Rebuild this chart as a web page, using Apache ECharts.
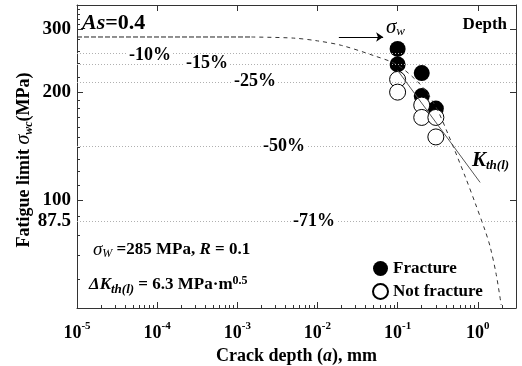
<!DOCTYPE html>
<html>
<head>
<meta charset="utf-8">
<script src="https://cdn.jsdelivr.net/npm/echarts@6/dist/echarts.min.js"></script>
<style>
  html, body { margin: 0; padding: 0; background: #fff; }
  #chart { width: 522px; height: 366px; }
</style>
</head>
<body>
<div id="chart"></div>
<script>
// crack depth a (mm) / fatigue limit (MPa)
var fracA = [0.1, 0.1, 0.2, 0.2, 0.3];
var fracS = [264, 239, 226, 195, 180];
var notA = [0.1, 0.1, 0.2, 0.2, 0.3, 0.3];
var notS = [217, 200, 184, 170, 170, 150];

// dashed prediction curve
var flatA = [1e-5, 1.5e-3];
var flatS = [285, 285];
var curveA = [1.5e-3, 5e-3, 0.01, 0.02, 0.05, 0.1, 0.2, 0.3, 0.43, 0.7, 0.93, 1.24, 1.43, 1.7, 1.96];
var curveS = [285, 283, 278, 270, 253, 238, 208, 182, 152, 116, 98, 82, 74, 62, 51];

// Kth(l) line and sigma_w arrow
var kthA = [0.1, 1.07];
var kthS = [230, 112];
var arrowA = [0.0185, 0.066];
var arrowS = [285, 285];

// dotted reference levels
var refS = [256.5, 242.25, 213.75, 142.5, 87.5];

// axes
var xMin = 1e-5, xMax = 3;
var yMin = 50, yMax = 350;
var yLabelVals = [87.5, 100, 200, 300];
var yMajor = [100, 200, 300];
var yMinor = [60, 70, 80, 90, 110, 120, 130, 140, 150, 160, 170, 180, 190,
              220, 240, 260, 280, 310, 320, 330, 340];
var xMinor = [];
for (var d = -5; d <= 0; d++) {
  for (var k = 2; k <= 9; k++) {
    var v = k * Math.pow(10, d);
    if (v < xMax) xMinor.push(v);
  }
}

var L = Math.log10;
function pts(a, s) { return a.map(function (x, i) { return [L(x), L(s[i])]; }); }

var FONT = '"Times New Roman", "Liberation Serif", serif';
var myChart = echarts.init(document.getElementById('chart'));

var frameLine = { onZero: false, lineStyle: { color: '#333', width: 1 } };
var noLine = { show: false, onZero: false };

var option = {
  animation: false,
  textStyle: { fontFamily: FONT, color: '#000' },
  grid: [
    { left: 77, right: 6, top: 5, bottom: 58, containLabel: false, outerBoundsMode: 'none' },
    { left: 77, right: 6, top: 5, bottom: 58, containLabel: false, outerBoundsMode: 'none' }
  ],
  legend: {
    data: ['Fracture', 'Not fracture'],
    orient: 'vertical',
    left: 367, top: 255,
    itemWidth: 15, itemHeight: 15, itemGap: 6,
    icon: 'circle',
    textStyle: { fontFamily: FONT, fontWeight: 'bold', fontSize: 17, color: '#000' }
  },
  xAxis: [
    {
      type: 'value', gridIndex: 0, position: 'bottom',
      min: L(xMin), max: L(xMax), interval: 1,
      name: '{b|Crack depth (}{i|a}{b|), mm}',
      nameLocation: 'middle', nameGap: 36,
      nameTextStyle: {
        rich: {
          b: { fontFamily: FONT, fontWeight: 'bold', fontSize: 18, color: '#000' },
          i: { fontFamily: FONT, fontWeight: 'bold', fontStyle: 'italic', fontSize: 18, color: '#000' }
        }
      },
      axisLine: frameLine,
      axisTick: { inside: true, length: 6, lineStyle: { color: '#333' } },
      splitLine: { show: false },
      axisLabel: {
        margin: 8,
        showMaxLabel: false,
        formatter: function (v) {
          var e = Math.round(v);
          if (Math.abs(v - e) > 1e-6) return '';
          return '{b|10}{s|' + e + '}';
        },
        rich: {
          b: { fontFamily: FONT, fontWeight: 'bold', fontSize: 18, color: '#000', padding: [8, 0, 0, 0] },
          s: { fontFamily: FONT, fontWeight: 'bold', fontSize: 11, color: '#000', padding: [0, 0, 6, 0] }
        }
      }
    },
    {
      type: 'value', gridIndex: 0, position: 'top',
      min: L(xMin), max: L(xMax), interval: 1,
      axisLine: frameLine,
      axisTick: { inside: true, length: 6, lineStyle: { color: '#333' } },
      axisLabel: { show: false },
      splitLine: { show: false }
    },
    {
      type: 'value', gridIndex: 1, position: 'bottom',
      min: L(xMin), max: L(xMax),
      axisLine: noLine,
      axisTick: { inside: true, length: 3, customValues: xMinor.map(L), lineStyle: { color: '#333' } },
      axisLabel: { show: false },
      splitLine: { show: false }
    }
  ],
  yAxis: [
    {
      type: 'value', gridIndex: 0, position: 'left',
      min: L(yMin), max: L(yMax),
      axisLine: frameLine,
      axisTick: { inside: true, length: 6, customValues: yMajor.map(L), lineStyle: { color: '#333' } },
      splitLine: { show: false },
      axisLabel: {
        margin: 6,
        customValues: yLabelVals.map(L),
        fontFamily: FONT, fontWeight: 'bold', fontSize: 19, color: '#000',
        formatter: function (v) { return String(Math.round(Math.pow(10, v) * 10) / 10); }
      }
    },
    {
      type: 'value', gridIndex: 0, position: 'right',
      min: L(yMin), max: L(yMax),
      axisLine: frameLine,
      axisTick: { inside: true, length: 6, customValues: yMajor.map(L), lineStyle: { color: '#333' } },
      axisLabel: { show: false },
      splitLine: { show: false }
    },
    {
      type: 'value', gridIndex: 1, position: 'left',
      min: L(yMin), max: L(yMax),
      axisLine: noLine,
      axisTick: { inside: true, length: 3, customValues: yMinor.map(L), lineStyle: { color: '#333' } },
      axisLabel: { show: false },
      splitLine: { show: false }
    }
  ],
  series: [
    {
      name: 'flat', type: 'line', xAxisIndex: 0, yAxisIndex: 0,
      data: pts(flatA, flatS), showSymbol: false, z: 4,
      lineStyle: { color: '#222', width: 1, type: [5, 2] },
      markLine: {
        silent: true, symbol: 'none', label: { show: false },
        lineStyle: { color: '#b0b0b0', width: 1, type: [1, 2] },
        data: refS.map(function (s) { return { yAxis: L(s) }; })
      }
    },
    {
      name: 'curve', type: 'line', xAxisIndex: 0, yAxisIndex: 0,
      data: pts(curveA, curveS), showSymbol: false, smooth: 0.3, z: 4,
      lineStyle: { color: '#333', width: 1, type: [4, 4] }
    },
    {
      name: 'Kth', type: 'line', xAxisIndex: 0, yAxisIndex: 0,
      data: pts(kthA, kthS), showSymbol: false, z: 4,
      lineStyle: { color: '#555', width: 1 }
    },
    {
      name: 'arrow', type: 'line', xAxisIndex: 0, yAxisIndex: 0,
      data: [], z: 4,
      markLine: {
        silent: true, symbol: ['none', 'arrow'], symbolSize: 7,
        label: { show: false },
        lineStyle: { color: '#000', width: 1, type: 'solid' },
        data: [[{ coord: [L(arrowA[0]), L(arrowS[0])] }, { coord: [L(arrowA[1]), L(arrowS[1])] }]]
      }
    },
    {
      name: 'Fracture', type: 'scatter', xAxisIndex: 0, yAxisIndex: 0,
      data: pts(fracA, fracS), symbol: 'circle', symbolSize: 16, z: 2,
      itemStyle: { color: '#000', opacity: 1 }
    },
    {
      name: 'Not fracture', type: 'scatter', xAxisIndex: 0, yAxisIndex: 0,
      data: pts(notA, notS), symbol: 'circle', symbolSize: 16, z: 3,
      itemStyle: { color: '#fff', borderColor: '#000', borderWidth: 1, opacity: 1 }
    }
  ],
  graphic: [
    { type: 'text', x: 24, y: 160, rotation: Math.PI / 2, style: {
      text: '{b|Fatigue limit }{si|σ}{sub|wc}{b|(MPa)}', align: 'center', verticalAlign: 'middle',
      rich: {
        b: { fontFamily: FONT, fontWeight: 'bold', fontSize: 18, fill: '#000' },
        si: { fontFamily: FONT, fontStyle: 'italic', fontSize: 20, fill: '#000' },
        sub: { fontFamily: FONT, fontStyle: 'italic', fontWeight: 'bold', fontSize: 12, fill: '#000', padding: [9, 0, 0, 0] }
      } } },
    { type: 'text', x: 82, y: 23, style: {
      text: '{i|As}{b|=0.4}', verticalAlign: 'middle',
      rich: {
        i: { fontFamily: FONT, fontWeight: 'bold', fontStyle: 'italic', fontSize: 22, fill: '#000' },
        b: { fontFamily: FONT, fontWeight: 'bold', fontSize: 22, fill: '#000' }
      } } },
    { type: 'text', x: 507, y: 25, style: {
      text: 'Depth', align: 'right', verticalAlign: 'middle',
      fontFamily: FONT, fontWeight: 'bold', fontSize: 17, fill: '#000' } },
    { type: 'text', x: 386, y: 27, style: {
      text: '{s|σ}{w|w}', verticalAlign: 'middle',
      rich: {
        s: { fontFamily: FONT, fontStyle: 'italic', fontSize: 21, fill: '#000' },
        w: { fontFamily: FONT, fontStyle: 'italic', fontSize: 13, fill: '#000', padding: [9, 0, 0, 0] }
      } } },
    { type: 'text', x: 150, y: 55, z: 10, style: { text: '-10%', align: 'center', verticalAlign: 'middle',
      fontFamily: FONT, fontWeight: 'bold', fontSize: 18, fill: '#000', backgroundColor: '#fff', padding: [0, 2] } },
    { type: 'text', x: 207, y: 63, z: 10, style: { text: '-15%', align: 'center', verticalAlign: 'middle',
      fontFamily: FONT, fontWeight: 'bold', fontSize: 18, fill: '#000', backgroundColor: '#fff', padding: [0, 2] } },
    { type: 'text', x: 255, y: 81, z: 10, style: { text: '-25%', align: 'center', verticalAlign: 'middle',
      fontFamily: FONT, fontWeight: 'bold', fontSize: 18, fill: '#000', backgroundColor: '#fff', padding: [0, 2] } },
    { type: 'text', x: 284, y: 146, z: 10, style: { text: '-50%', align: 'center', verticalAlign: 'middle',
      fontFamily: FONT, fontWeight: 'bold', fontSize: 18, fill: '#000', backgroundColor: '#fff', padding: [0, 2] } },
    { type: 'text', x: 314, y: 221, z: 10, style: { text: '-71%', align: 'center', verticalAlign: 'middle',
      fontFamily: FONT, fontWeight: 'bold', fontSize: 18, fill: '#000', backgroundColor: '#fff', padding: [0, 2] } },
    { type: 'text', x: 472, y: 161, style: {
      text: '{k|K}{t|th(l)}', verticalAlign: 'middle',
      rich: {
        k: { fontFamily: FONT, fontWeight: 'bold', fontStyle: 'italic', fontSize: 21, fill: '#000' },
        t: { fontFamily: FONT, fontWeight: 'bold', fontStyle: 'italic', fontSize: 13, fill: '#000', padding: [10, 0, 0, 0] }
      } } },
    { type: 'text', x: 93, y: 250, style: {
      text: '{s|σ}{w|W}{b| =285 MPa, }{i|R}{b| = 0.1}', verticalAlign: 'middle',
      rich: {
        s: { fontFamily: FONT, fontStyle: 'italic', fontSize: 19, fill: '#000' },
        w: { fontFamily: FONT, fontStyle: 'italic', fontSize: 12, fill: '#000', padding: [8, 0, 0, 0] },
        b: { fontFamily: FONT, fontWeight: 'bold', fontSize: 17, fill: '#000' },
        i: { fontFamily: FONT, fontWeight: 'bold', fontStyle: 'italic', fontSize: 17, fill: '#000' }
      } } },
    { type: 'text', x: 89, y: 285, style: {
      text: '{i|ΔK}{t|th(l)}{b| = 6.3 MPa·m}{p|0.5}', verticalAlign: 'middle',
      rich: {
        i: { fontFamily: FONT, fontWeight: 'bold', fontStyle: 'italic', fontSize: 17, fill: '#000' },
        t: { fontFamily: FONT, fontWeight: 'bold', fontStyle: 'italic', fontSize: 13, fill: '#000', padding: [9, 0, 0, 0] },
        b: { fontFamily: FONT, fontWeight: 'bold', fontSize: 17, fill: '#000' },
        p: { fontFamily: FONT, fontWeight: 'bold', fontSize: 12, fill: '#000', padding: [0, 0, 9, 0] }
      } } }
  ]
};

myChart.setOption(option);
</script>
</body>
</html>
